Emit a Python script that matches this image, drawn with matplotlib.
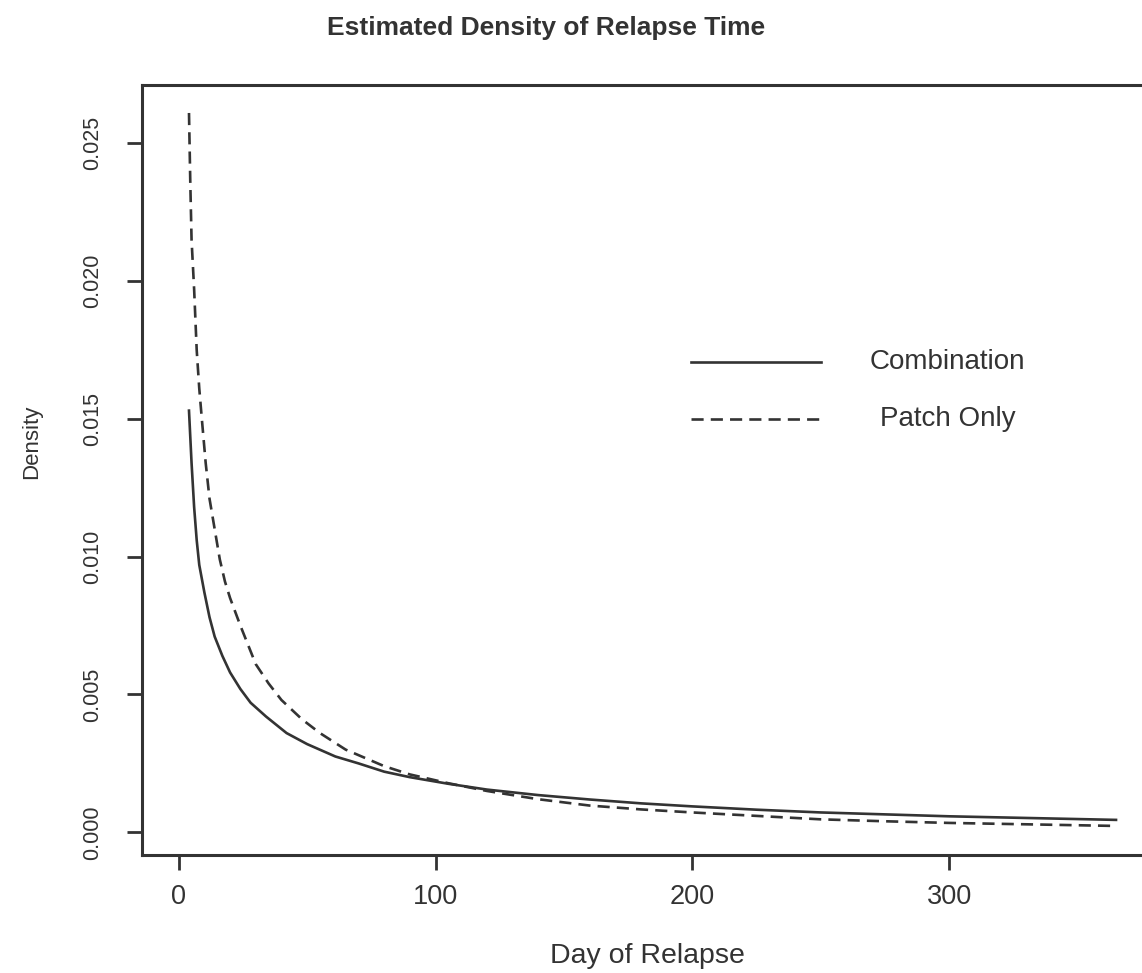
import matplotlib
matplotlib.use("Agg")
import matplotlib.pyplot as plt

plt.rcParams["font.family"] = ["Liberation Sans", "DejaVu Sans"]

# values
comboDays = [4, 5, 6, 7, 8, 10, 12, 14, 17, 20, 24, 28, 34, 42, 50, 61, 70, 80, 90,
             105, 120, 140, 160, 180, 200, 225, 250, 275, 300, 330, 365]
comboDensity = [0.0153, 0.0134, 0.0118, 0.0106, 0.0097, 0.0087, 0.0078, 0.0071, 0.0064,
                0.0058, 0.0052, 0.0047, 0.0042, 0.0036, 0.0032, 0.00275, 0.0025, 0.0022,
                0.0020, 0.00176, 0.00155, 0.00135, 0.00119, 0.00105, 0.00094, 0.00082,
                0.00072, 0.00065, 0.00058, 0.00052, 0.00045]

patchDays = [4, 4.5, 5, 6, 7, 8, 9, 10.5, 12, 14, 16, 18, 20, 24, 27, 30, 35, 40, 48,
             55, 65, 75, 80, 90, 105, 120, 140, 160, 180, 200, 230, 250, 275, 300, 330, 365]
patchDensity = [0.0261, 0.0236, 0.0215, 0.0197, 0.0175, 0.0161, 0.0150, 0.0134, 0.0121,
                0.0110, 0.0099, 0.0091, 0.0085, 0.0075, 0.0068, 0.0061, 0.0054, 0.0048,
                0.0041, 0.0036, 0.0030, 0.0026, 0.0024, 0.0021, 0.00178, 0.00150, 0.00120,
                0.00097, 0.00083, 0.00072, 0.00057, 0.00047, 0.00040, 0.00034, 0.00029,
                0.00023]

xTicks = [0, 100, 200, 300]
yTicks = [0.000, 0.005, 0.010, 0.015, 0.020, 0.025]
legendLabels = ["Combination", "Patch Only"]

ink = "#333333"
W, H = 1142, 973

fig = plt.figure(figsize=(W / 100, H / 100), dpi=100)
# right edge of the box falls outside the picture, like the reference
ax = fig.add_axes([142 / W, 1 - 855 / H, 1011 / W, 770 / H])

ax.plot(comboDays, comboDensity, color=ink, lw=1.9)
ax.plot(patchDays, patchDensity, color=ink, lw=1.9, ls=(0, (4.6, 2.7)))

ax.set_xlim(-14.3, 379.4)
ax.set_ylim(-0.000824, 0.027115)
ax.set_xticks(xTicks)
ax.set_xticklabels([str(t) for t in xTicks])
ax.set_yticks(yTicks)
ax.set_yticklabels([f"{t:.3f}" for t in yTicks], rotation=90, va="center")

for side in ["left", "bottom", "top", "right"]:
    ax.spines[side].set_color(ink)
    ax.spines[side].set_linewidth(2.2)

ax.tick_params(axis="both", colors=ink, length=10.8, width=2.0)
ax.tick_params(axis="x", labelsize=19.5, pad=10)
ax.tick_params(axis="y", labelsize=15.5, pad=17)

# legend drawn without a box, text centred like the R version
styles = ["-", (0, (4.6, 2.7))]
legendY = [0.640, 0.566]
for label, style, ly in zip(legendLabels, styles, legendY):
    ax.plot([0.543, 0.672], [ly, ly], transform=ax.transAxes, color=ink, lw=1.9, ls=style)
    ax.text(0.797, ly, label, transform=ax.transAxes, ha="center", va="center",
            fontsize=20, color=ink)

fig.text(546.5 / W, 1 - 35 / H, "Estimated Density of Relapse Time", ha="center",
         va="baseline", fontsize=19, fontweight="bold", color=ink)
fig.text(647.5 / W, 1 - 963 / H, "Day of Relapse", ha="center", va="baseline",
         fontsize=20.5, color=ink)
fig.text(32 / W, 1 - 442 / H, "Density", ha="center", va="center", rotation=90,
         fontsize=16, color=ink)

fig.savefig("out.png", dpi=100)
